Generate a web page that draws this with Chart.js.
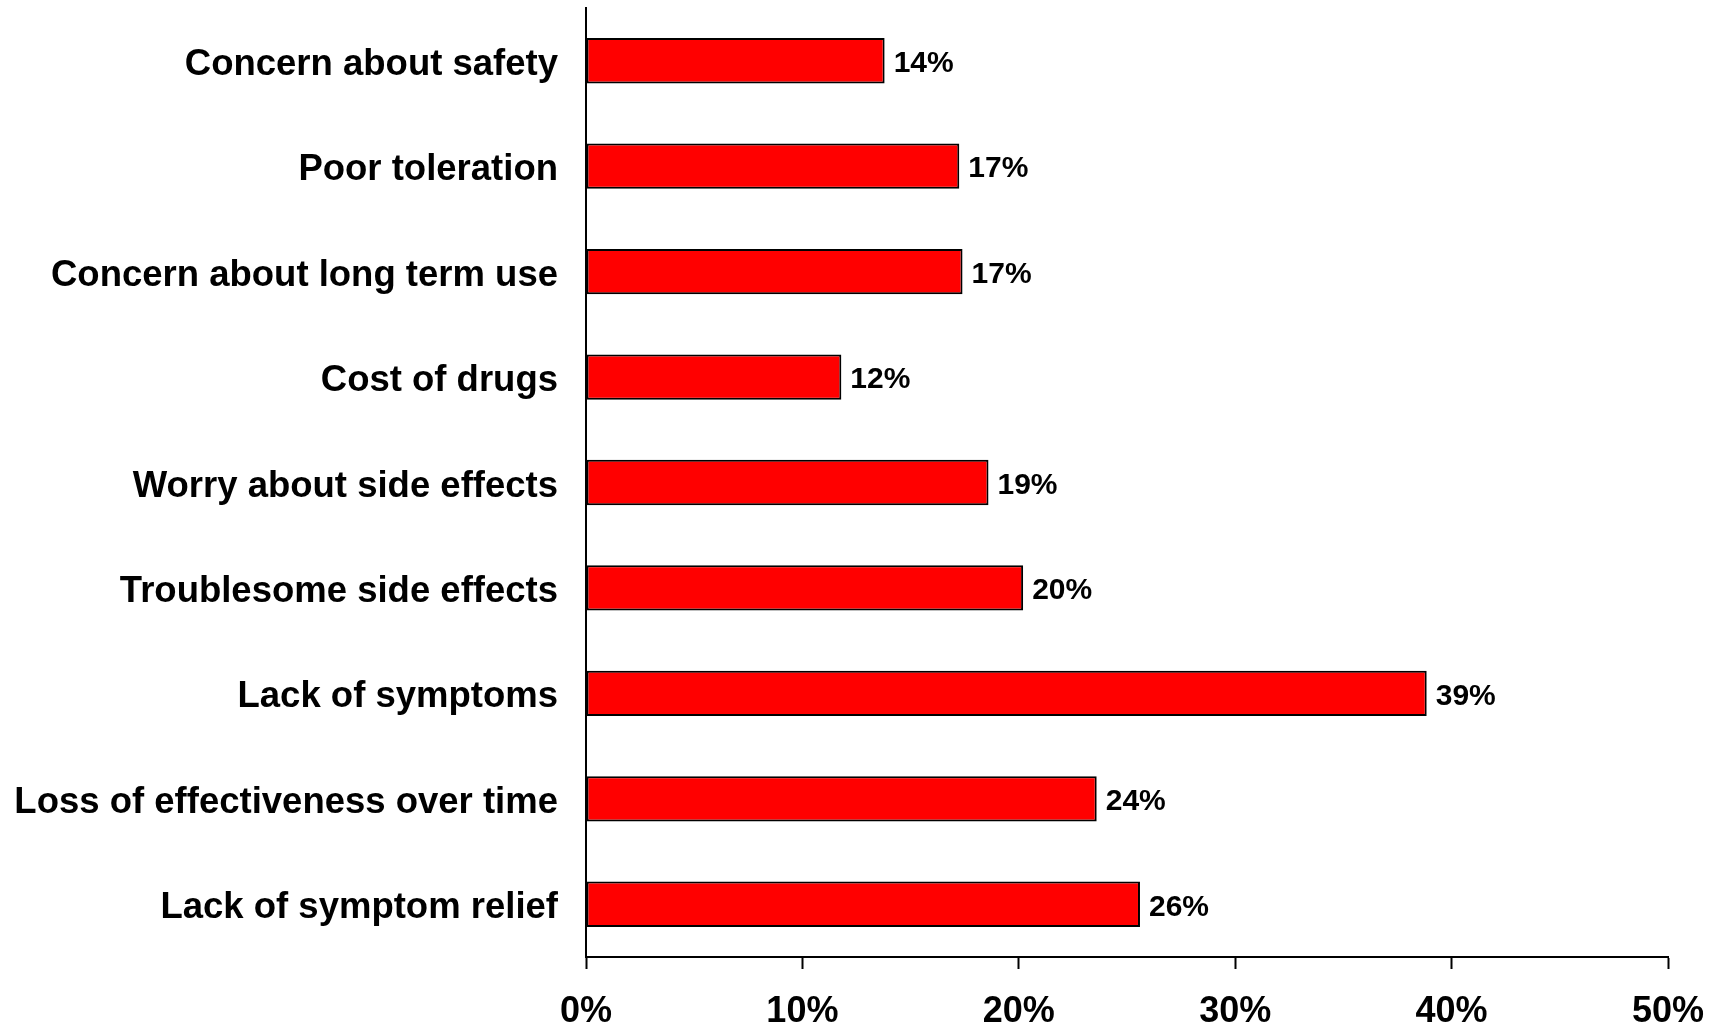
<!DOCTYPE html>
<html>
<head>
<meta charset="utf-8">
<script src="https://cdn.jsdelivr.net/npm/chart.js@4/dist/chart.umd.min.js"></script>
<style>
    html, body { margin: 0; padding: 0; background: #ffffff; }
    #chart { display: block; }
</style>
</head>
<body>
<canvas id="chart" width="1719" height="1027"></canvas>
<script>
// Datos del gráfico
const categories = [
    'Concern about safety',
    'Poor toleration',
    'Concern about long term use',
    'Cost of drugs',
    'Worry about side effects',
    'Troublesome side effects',
    'Lack of symptoms',
    'Loss of effectiveness over time',
    'Lack of symptom relief'
];
const values = [13.8, 17.25, 17.4, 11.8, 18.6, 20.2, 38.85, 23.6, 25.6];
const xTicks = [0, 10, 20, 30, 40, 50];

const fontFamily = '"Liberation Sans", Arial, Helvetica, sans-serif';

/**
 * Plugin para escribir el porcentaje al final de cada barra
 */
const valueLabels = {
    id: 'valueLabels',
    afterDatasetsDraw(chart) {
        const ctx = chart.ctx;
        const meta = chart.getDatasetMeta(0);
        ctx.save();
        ctx.font = 'bold 30px ' + fontFamily;
        ctx.fillStyle = '#000000';
        ctx.textAlign = 'left';
        ctx.textBaseline = 'middle';
        meta.data.forEach((bar, i) => {
            ctx.fillText(Math.round(values[i]) + '%', bar.x + 9, bar.y + 3);
        });
        ctx.restore();
    }
};

new Chart(document.getElementById('chart'), {
    type: 'bar',
    data: {
        labels: categories,
        datasets: [{
            data: values,
            backgroundColor: '#ff0000',
            borderColor: '#000000',
            borderWidth: 2,
            borderSkipped: false,
            barPercentage: 0.43,
            categoryPercentage: 1.0
        }]
    },
    options: {
        indexAxis: 'y',
        responsive: false,
        animation: false,
        layout: {
            padding: { top: 8, right: 51, left: 0, bottom: 0 }
        },
        plugins: {
            legend: { display: false },
            tooltip: { enabled: false }
        },
        scales: {
            x: {
                min: xTicks[0],
                max: xTicks[xTicks.length - 1],
                afterBuildTicks: (axis) => {
                    axis.ticks = xTicks.map(v => ({ value: v }));
                },
                afterFit: (axis) => {
                    axis.height = 70;
                    axis.paddingLeft = 0;
                    axis.paddingRight = 0;
                },
                border: { display: true, color: '#000000', width: 2 },
                grid: {
                    drawOnChartArea: false,
                    drawTicks: true,
                    tickLength: 12,
                    tickWidth: 2,
                    color: '#000000'
                },
                ticks: {
                    padding: 21,
                    maxRotation: 0,
                    color: '#000000',
                    font: { family: fontFamily, size: 36, weight: 'bold' },
                    callback: (value) => value + '%'
                }
            },
            y: {
                afterFit: (axis) => {
                    axis.width = 586;
                    axis.paddingTop = 0;
                    axis.paddingBottom = 0;
                },
                border: { display: true, color: '#000000', width: 2 },
                grid: { display: false, drawTicks: false },
                ticks: {
                    padding: 28,
                    labelOffset: 4,
                    color: '#000000',
                    font: { family: fontFamily, size: 36.5, weight: 'bold' }
                }
            }
        }
    },
    plugins: [valueLabels]
});
</script>
</body>
</html>
